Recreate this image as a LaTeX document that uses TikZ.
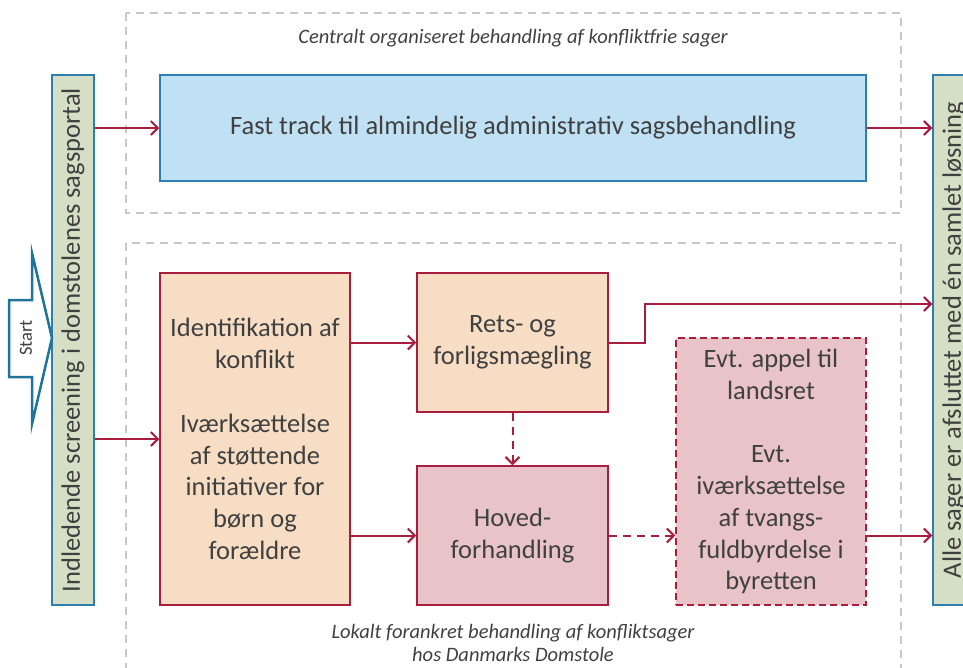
\documentclass[tikz,border=0pt]{standalone}
\usepackage{fontspec}
\setmainfont{Carlito}
\usetikzlibrary{arrows.meta}

\definecolor{txt}{HTML}{404040}
\definecolor{edgeblue}{HTML}{2C7FAE}
\definecolor{fastfill}{HTML}{BFE1F3}
\definecolor{barfill}{HTML}{D5DFC5}
\definecolor{peach}{HTML}{F6DDC4}
\definecolor{rose}{HTML}{E8C3C8}
\definecolor{wine}{HTML}{A91E3C}
\definecolor{frame}{HTML}{C8C8C8}
\definecolor{startblue}{HTML}{1F7499}

\tikzset{
  boxtext/.style={text=txt, font=\fontsize{26.5}{31.8}\selectfont, align=center},
  fastbox/.style={boxtext, draw=edgeblue, fill=fastfill, line width=1.5pt, inner sep=0pt},
  sidebar/.style={draw=edgeblue, fill=barfill, line width=1.5pt, inner sep=0pt, minimum width=42pt, minimum height=530pt},
  sidetext/.style={text=txt, font=\fontsize{26.5}{30}\selectfont, rotate=90},
  peachbox/.style={boxtext, draw=wine, fill=peach, line width=1.5pt, inner sep=0pt},
  rosebox/.style={boxtext, draw=wine, fill=rose, line width=1.5pt, inner sep=0pt},
  optbox/.style={rosebox, dash pattern=on 7pt off 4pt},
  region/.style={draw=frame, line width=1.5pt, dash pattern=on 8pt off 6pt},
  regionlabel/.style={text=txt, font=\fontsize{20.5}{23}\itshape, align=center},
  conn/.style={draw=wine, line width=2pt, -{Straight Barb[length=7pt,width=14pt,line width=2pt]}},
  optconn/.style={conn, dash pattern=on 8pt off 6pt},
}

\begin{document}
\begin{tikzpicture}[x=1pt, y=-1pt]
  \useasboundingbox (0,0) rectangle (963,667);

  % dashed regions
  \draw[region] (126,13) rectangle (901,213);
  \draw[region] (126,243) rectangle (901,700);
  \node[regionlabel] (toplabel) at (513,38) {Centralt organiseret behandling af konfliktfrie sager};
  \node[regionlabel] (botlabel) at (513,643) {Lokalt forankret behandling af konfliktsager\\hos Danmarks Domstole};

  % side bars
  \node[sidebar] (scr) at (73,340) {};
  \node[sidetext] (scrtext) at (scr) {Indledende screening i domstolenes sagsportal};
  \node[sidebar] (done) at (954,340) {};
  \node[sidetext] (donetext) at (done) {Alle sager er afsluttet med én samlet løsning};

  % start arrow
  \draw[draw=startblue, fill=white, line width=2.5pt, line join=miter]
    (9,300) -- (32,300) -- (32,253) -- (52,338) -- (32,424) -- (32,377) -- (9,377) -- cycle;
  \node[text=txt, font=\fontsize{18.5}{20}\selectfont, rotate=90] (start) at (26,338) {Start};

  % process boxes
  \node[fastbox, minimum width=706pt, minimum height=106pt] (fast) at (513,128)
    {Fast track til almindelig administrativ sagsbehandling};
  \node[peachbox, minimum width=190pt, minimum height=332pt] (ident) at (255,439)
    {Identifikation af\\konflikt\\[31.8pt]Iværksættelse\\af støttende\\initiativer for\\børn og\\forældre};
  \node[peachbox, minimum width=191pt, minimum height=139pt] (rets) at (512.5,342.5)
    {Rets- og\\forligsmægling};
  \node[rosebox, minimum width=191pt, minimum height=139pt] (hoved) at (512.5,535.5)
    {Hoved-\\forhandling};
  \node[optbox, minimum width=190pt, minimum height=267pt] (appel) at (771,471.5)
    {Evt. appel til\\landsret\\[31.8pt]Evt.\\iværksættelse\\af tvangs-\\fuldbyrdelse i\\byretten};

  \coordinate (bend) at (645,304);

  % connectors
  \draw[conn] (scr.east |- fast.west) -- (fast.west);
  \draw[conn] (fast.east) -- (fast.east -| done.west);
  \draw[conn] (ident.west -| scr.east) -- (ident.west);
  \draw[conn] (rets.west -| ident.east) -- (rets.west);
  \draw[conn] (hoved.west -| ident.east) -- (hoved.west);
  \draw[conn] (rets.east) -| (bend) -- (bend -| done.west);
  \draw[optconn] (rets.south) -- (hoved.north);
  \draw[optconn] (hoved.east) -- (hoved.east -| appel.west);
  \draw[conn] (appel.east |- hoved.east) -- (hoved.east -| done.west);
\end{tikzpicture}
\end{document}
